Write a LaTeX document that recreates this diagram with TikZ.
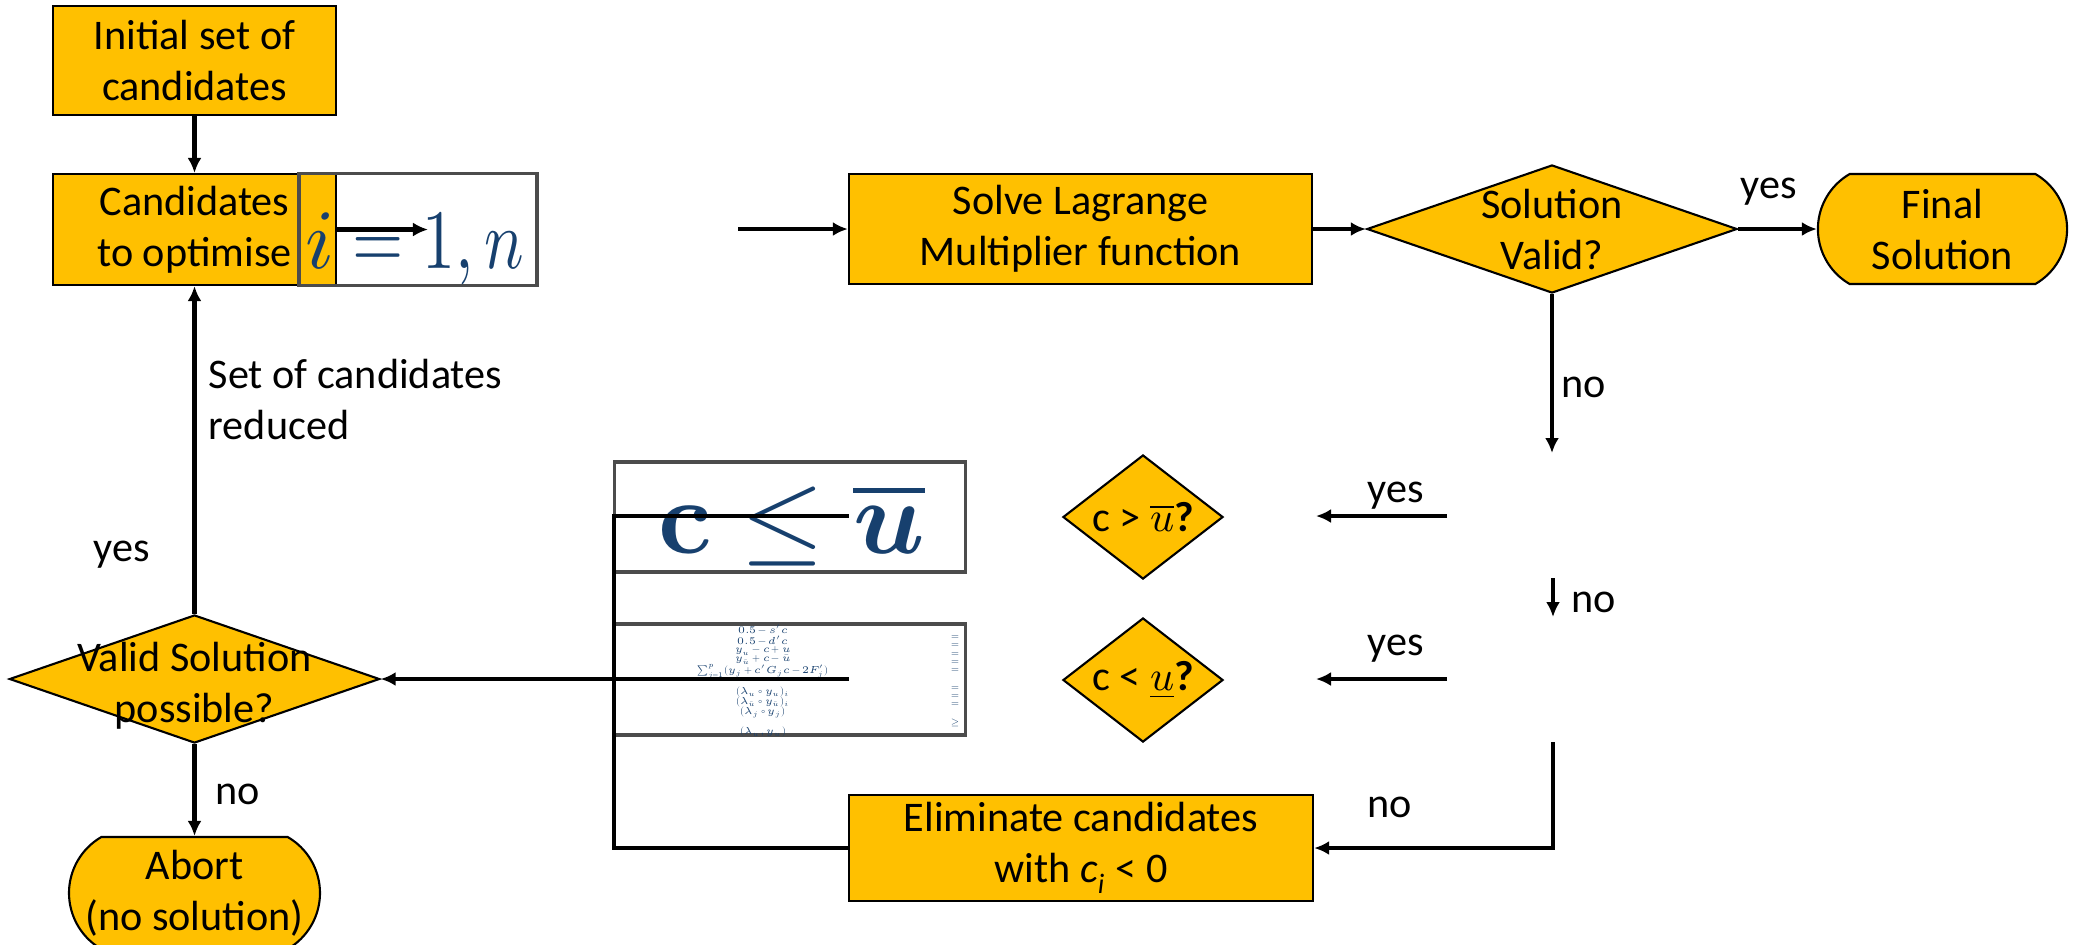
\documentclass[tikz,border=0pt]{standalone}
\usepackage{fontspec}
\setmainfont{Carlito}
\usepackage{unicode-math}
\setmathfont{Latin Modern Math}
\usetikzlibrary{shapes,shapes.geometric,shapes.misc,arrows.meta,calc,positioning}
\definecolor{boxorange}{RGB}{255,192,0}
\definecolor{eqblue}{RGB}{23,64,110}
\tikzset{
	auto,semithick,
	lbl/.style = {inner sep=0pt},
	eqn/.style = {inner sep=0pt, text=eqblue, font=\fontsize{24}{28}\selectfont}
}

\begin{document}
\begin{tikzpicture}[x=0.01cm, y=-0.01cm, >={Latex[length=1.5mm,width=1.4mm]},
	every node/.style={font=\fontsize{12}{14.5}\selectfont}]
		\tikzstyle{block} = [draw, fill=boxorange, align=center, inner sep=2pt, line width=0.6pt]
		\tikzstyle{decision} = [draw, diamond, fill=boxorange, inner sep=0pt, line width=0.6pt]
		\tikzstyle{terminal} = [draw, rounded rectangle, rounded rectangle arc length=120,
		fill=boxorange, align=center, inner sep=0pt, line width=0.6pt]
		\tikzstyle{imgbox} = [draw=black!70, line width=0.9pt, inner sep=0pt]
		\useasboundingbox (0,0) rectangle (2078,944);

		% left column
		\node[block, minimum width=2.83cm, minimum height=1.09cm] (init) at (194.5,60.5) {Initial set of\\candidates};
		\node[block, minimum width=2.83cm, minimum height=1.11cm] (cand) at (194.5,229.5) {Candidates\\to optimise};
		\node[imgbox, minimum width=2.38cm, minimum height=1.12cm] (ibox) at (418,229.5) {};
		\node[eqn, anchor=base] (iidx) at (320,268) {$i$};
		\node[eqn, anchor=base west] (irange) at (352,268) {\scalebox{0.78}[1]{$=1,n$}};
		\coordinate (ieq) at (428,229.5);
		\node[decision, minimum width=3.7cm, minimum height=1.28cm,
		label={[align=center, yshift=-2pt]center:{Valid Solution\\possible?}}] (vsp) at (194.5,679) {};
		\node[terminal, minimum width=2.48cm, minimum height=1.12cm] (abort) at (194.5,893) {Abort\\(no solution)};

		% top row
		\coordinate (cin) at (738,229);
		\node[block, minimum width=4.63cm, minimum height=1.1cm] (solve) at (1080.5,229) {Solve Lagrange\\Multiplier function};
		\node[decision, minimum width=3.7cm, minimum height=1.28cm,
		label={[align=center]center:{Solution\\Valid?}}] (valid) at (1552,229) {};
		\node[terminal, minimum width=2.49cm, minimum height=1.1cm] (final) at (1942.5,229) {Final\\Solution};
		\coordinate (vno) at (1552,453);

		% bound checks
		\node[decision, minimum width=1.6cm, minimum height=1.24cm,
		label={center:{c > $\overline{u}$\textbf{?}}}] (cup) at (1143,517) {};
		\node[decision, minimum width=1.6cm, minimum height=1.24cm,
		label={center:{c < $\underline{u}$\textbf{?}}}] (clo) at (1143,680) {};
		\coordinate (yup1) at (1447,516);
		\coordinate (yup2) at (1316,516);
		\coordinate (nsm1) at (1553,578);
		\coordinate (nsm2) at (1553,617);
		\coordinate (ylo1) at (1447,679);
		\coordinate (ylo2) at (1316,679);
		\coordinate (nlo) at (1553,742);
		\node[block, minimum width=4.64cm, minimum height=1.06cm] (elim) at (1081,848)
		{Eliminate candidates\\with \textit{c}\textsubscript{\textit{i}} < 0};

		% constraint pictures
		\node[imgbox, minimum width=3.5cm, minimum height=1.1cm] (cbox) at (790,517) {};
		\node[eqn, font=\fontsize{30}{34}\selectfont, anchor=base] (cform) at (792,553) {$\symbf{c}\leq\overline{\symbfit{u}}$};
		\node[imgbox, minimum width=3.5cm, minimum height=1.11cm] (ebox) at (790,679.5) {};
		\node[eqn, font=\fontsize{2.9}{2.3}\selectfont] (elhs) at (763,681) {$\begin{array}{c}
			0.5-s'c\\ 0.5-d'c\\ y_u-c+u\\ y_{\bar u}+c-\bar u\\
			\sum_{j=1}^{p}(y_j+c'G_jc-2F_j')\\[3pt]
			(\lambda_u\circ y_u)_i\\ (\lambda_{\bar u}\circ y_{\bar u})_i\\ (\lambda_j\circ y_j)\\[2.7pt]
			(\lambda_u,y_u)\end{array}$};
		\node[eqn, font=\fontsize{2.9}{2.3}\selectfont] (erhs) at (955,681) {$\begin{array}{c}
			=\\ =\\ =\\ =\\ =\\[3pt] =\\ =\\ =\\[2.7pt] \geq\end{array}$};
		\coordinate (jn) at (614,516);
		\coordinate (jend) at (849,516);
		\coordinate (jmid) at (849,679);

		\path[->, line width=1.3pt]
		(init) edge (cand)
		(cand.east) edge (ieq)
		(cin) edge (solve)
		(solve) edge (valid)
		(valid) edge (final)
		(valid) edge (vno)
		(yup1) edge (yup2)
		(nsm1) edge (nsm2)
		(ylo1) edge (ylo2)
		(vsp) edge (cand)
		(vsp) edge (abort)
		(jmid) edge (vsp)
		;
		\draw[->, line width=1.3pt] (nlo) |- (elim.east);
		\draw[line width=1.3pt] (elim.west) -| (jn) -- (jend);

		% labels
		\node[lbl] (lyes1) at (1769,192) {yes};
		\node[lbl] (lno1) at (1584,387) {no};
		\node[lbl] (lyes2) at (1396,496) {yes};
		\node[lbl] (lno2) at (1594,602) {no};
		\node[lbl] (lyes3) at (1396,649) {yes};
		\node[lbl] (lno3) at (1390,807) {no};
		\node[lbl, align=left, anchor=west] (lred) at (208,399) {Set of candidates\\reduced};
		\node[lbl] (lyes4) at (122,555) {yes};
		\node[lbl] (lno4) at (238,794) {no};
\end{tikzpicture}
\end{document}
